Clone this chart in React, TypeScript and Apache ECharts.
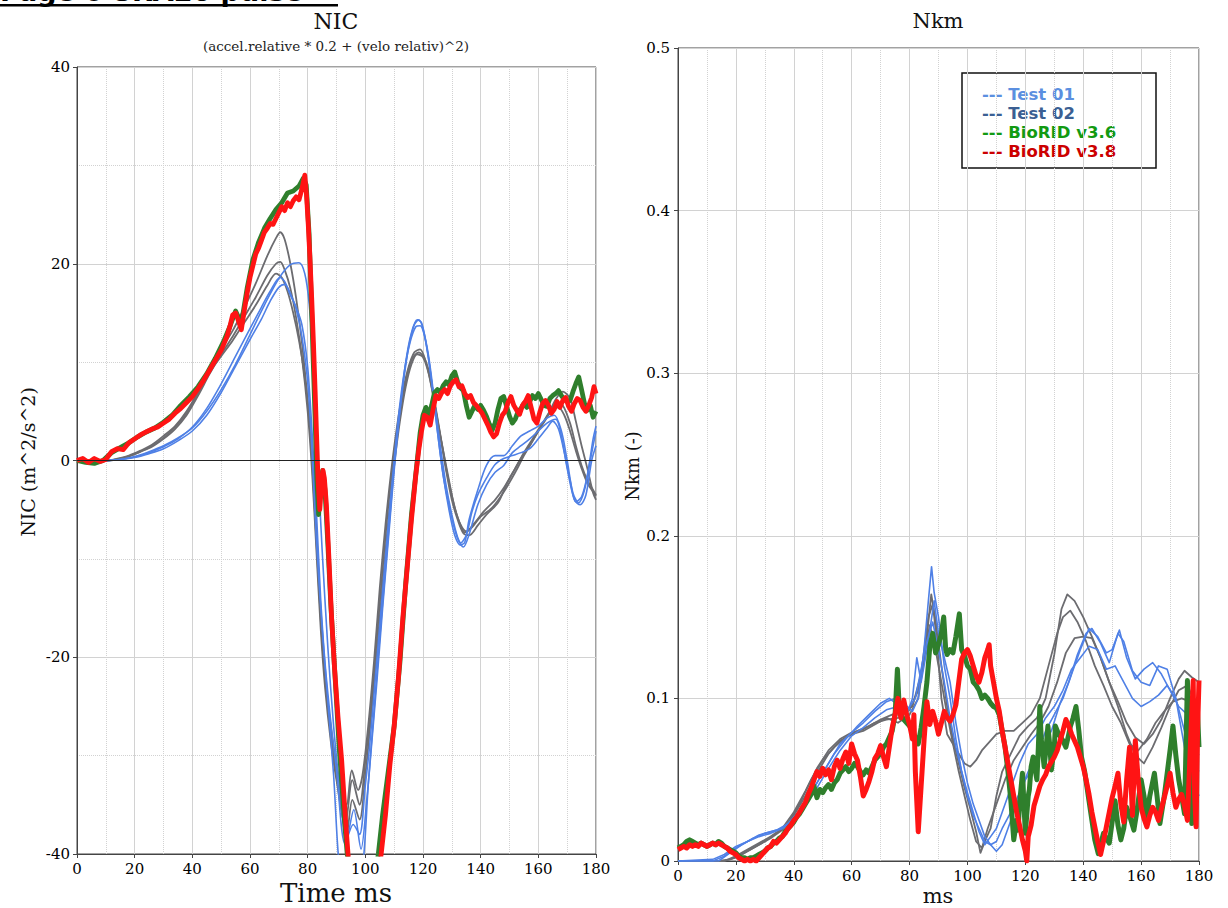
import React, { useEffect, useRef } from "react";
import * as echarts from "echarts";

type P = [number, number][];

// ---------- Left panel: NIC ----------
const NIC_TEST01_A: P = [[0,0],[10,0],[15,0.1],[20,0.4],[25,0.9],[30,1.5],[35,2.3],[40,3.3],[45,5.0],[50,7.2],[55,9.8],[60,12.8],[65,15.8],[70,18.5],[74,19.9],[77,20.1],[79,19],[80.5,16],[82,10],[83.5,0],[85,-9],[87,-19],[89,-27],[91,-33],[93.5,-38.5],[96,-35.5],[98.5,-39.5],[100.5,-34.5],[102,-29.5],[104,-22.5],[106,-15],[108,-8],[110,-1],[112,5],[114,10],[116,13],[118,14.3],[119.5,14],[121,12],[123,8],[125,3],[127,-1.5],[129,-4.5],[131,-7],[133,-8.4],[135,-7.6],[137,-5.2],[139,-3.5],[142,-1.8],[145,-0.4],[148,0.2],[151,0.5],[154,0.8],[157,1.2],[160,2.2],[163,3.3],[165,4.0],[167,3.2],[169,0.8],[171,-2],[173,-4.2],[175,-3.7],[177,-1.5],[179,2.2],[180,3.5]];
const NIC_TEST01_B: P = [[0,0],[10,0],[15,0.1],[20,0.35],[25,0.8],[30,1.4],[35,2.2],[40,3.4],[45,5.3],[50,7.8],[55,10.6],[60,13.4],[64,15.6],[67,17.2],[70.4,18.6],[72,18.2],[74,16.8],[76,15.6],[78,13.8],[80,9.5],[81.5,3],[83,-5],[84.5,-14],[86,-20.5],[88,-26.5],[90,-31.5],[93,-39],[95.8,-37],[98,-38],[100,-33],[101.5,-29],[103.5,-22],[105.5,-15],[107.5,-8],[109.5,-1.5],[111.5,4.5],[113.5,9],[115.5,12],[117.5,13.6],[119,13.7],[121,12.0],[123,8],[125,3],[127,-1.5],[129,-5],[131,-7.6],[133,-8.6],[134.5,-8.3],[136,-6],[139,-3],[142,-0.5],[145,0.5],[148,0.5],[151,1.5],[154,2.5],[157,3.0],[160,3.5],[163,4.3],[165.5,4.6],[168,3],[170,0],[172,-3.3],[174,-4.3],[176,-3],[178,0],[180,3]];
const NIC_TEST01_C: P = [[0,0],[10,0],[15,0.1],[20,0.3],[25,0.7],[30,1.2],[35,2.0],[40,3.0],[45,4.6],[50,6.9],[55,9.6],[60,12.3],[64,14.4],[67,16.2],[70,17.6],[72,17.9],[74,17.0],[76,15.4],[78,12.6],[80,8],[81.5,1],[83,-8],[85,-17],[87,-24.5],[89,-32],[90.6,-40],[92,-43],[94,-44],[95.5,-41.5],[97.5,-44],[99.5,-40],[101,-33],[103,-25.5],[105,-18],[107,-11],[109,-4],[111,2.5],[113,7.5],[115,11.5],[117,13.8],[118.5,14.3],[120,13.4],[122,10.5],[124,6],[126,1.5],[128,-2.5],[130,-5.5],[132,-7.8],[134,-8.8],[136,-7.5],[139,-4.5],[142,-2.5],[145,-1.2],[148,-0.5],[151,0.8],[154,1.5],[157,2.2],[160,3.0],[163,3.8],[166,4.2],[168,2.5],[170,-0.8],[172.5,-4.0],[174.5,-4.5],[176.5,-3.5],[178.5,0],[180,1.5]];
const NIC_TEST02_A: P = [[0,0],[10,0],[14,0.2],[18,0.5],[22,1.0],[26,1.6],[30,2.5],[34,3.5],[38,5.0],[42,7.0],[46,9.3],[50,11.3],[54,13.2],[58,15.5],[62,18.0],[66,20.8],[69,22.6],[70.5,23.2],[72,22.5],[74,20],[76,16.5],[78,12],[80,6],[81.5,0],[83,-8],[84.5,-16],[86,-22],[88,-27],[90,-31],[92,-34],[93.5,-35],[95.3,-31.5],[97.5,-33.5],[99,-32],[101,-27],[103,-20.5],[105,-13],[107,-6.5],[109,-1],[111,3.5],[113,7],[115,9.5],[117,11],[119,11.3],[121,10],[123,7.5],[125,4],[127,1],[129,-2],[131,-4.8],[133,-6.5],[135,-7.2],[138,-6.3],[141,-5.2],[145,-4],[148,-2.8],[151,-1.3],[154,0.2],[157,1.5],[160,3.0],[163,4.4],[166,6.2],[168.5,7.0],[171,6.3],[173,4.0],[175,1.5],[177,-0.8],[179,-3.3],[180,-4]];
const NIC_TEST02_B: P = [[0,0],[10,0],[14,0.1],[18,0.4],[22,0.9],[26,1.4],[30,2.2],[34,3.2],[38,4.6],[42,6.6],[46,8.8],[50,10.8],[54,12.6],[58,14.6],[62,16.6],[66,18.8],[69,20],[70.5,20.2],[72,19.4],[74,17.5],[76,14.5],[78,10.5],[80,5],[81.5,-1],[83,-9],[84.5,-17],[86,-23],[88,-28.5],[90,-32.5],[93,-37],[95.5,-32.5],[98,-35],[100,-30.5],[102,-25],[104,-18],[106,-11],[108,-4.5],[110,0.5],[112,4.5],[114,8],[116,10.2],[118.5,11.0],[120.5,10.4],[122.5,8.5],[124.5,5.2],[126.5,1.8],[128.5,-1.5],[130.5,-4.2],[132.5,-6.2],[134.5,-7.3],[137,-6.8],[140,-5.7],[144,-4.8],[148,-3.2],[152,-1.2],[155,0.5],[158,2.0],[161,3.5],[164,5.0],[166.5,5.8],[168.5,5.6],[171,3.8],[173,1.5],[175,-0.5],[177,-2.0],[179,-3.0],[180,-3.5]];
const NIC_TEST02_C: P = [[0,0],[10,0],[14,0.15],[18,0.45],[22,0.9],[26,1.5],[30,2.3],[34,3.4],[38,4.8],[42,6.8],[46,9.0],[50,10.6],[54,12.2],[58,14.0],[62,15.8],[66,17.8],[69,19.0],[71,18.6],[73,17.2],[75,15.0],[77,12.2],[79,8.5],[81,3],[82.5,-4],[84,-13],[85.5,-20],[87,-25],[89,-30],[91,-34],[93.5,-38],[95.5,-34.5],[98,-36.5],[100,-32],[102,-26],[104,-19.5],[106,-12.5],[108,-6],[110,-0.5],[112,4],[114,7.5],[116,9.8],[118,10.8],[120,10.5],[122,8.8],[124,5.8],[126,2.5],[128,-1],[130,-4],[132,-6],[134,-7.4],[136,-7.6],[139,-6.6],[142,-5.5],[146,-4.3],[149,-2.4],[152,-0.8],[155,0.8],[158,2.2],[161,3.6],[164,4.8],[167,5.4],[169,4.6],[171,3.0],[173,1.0],[175,-0.8],[177,-2.3],[179,-3.2],[180,-3.6]];
const NIC_V36: P = [[0,0],[3,-0.2],[6,-0.3],[9,0],[12,0.8],[15,1.3],[18,1.8],[21,2.4],[24,2.9],[27,3.3],[30,3.9],[33,4.6],[36,5.6],[39,6.5],[42,7.5],[45,8.8],[48,10.4],[51,12.2],[53,13.6],[55,15.2],[57,13.9],[59,17.5],[61,20.4],[63,22.2],[65,23.6],[67,24.6],[69,25.5],[71,26.2],[73,27.2],[75,27.4],[77,27.9],[78.5,28.7],[79.5,28],[80.5,23],[81.5,14],[82.5,5],[83.2,-2],[83.8,-5.5],[84.5,-2.5],[85.2,-1],[86,-3],[87,-8.5],[88,-14.5],[89,-19.5],[90,-24.5],[91,-29.5],[92,-33.5],[93,-37.5],[94,-41],[97,-45],[100,-46],[103,-43],[104.5,-40],[106,-36],[108,-31.5],[110,-27],[112,-20.5],[114,-12.5],[116,-5.5],[118,0],[119,2.8],[120,4.6],[121,5.4],[122,4.6],[123,5.6],[124,6.9],[125,7.2],[126,6.9],[127,7.6],[128,8.0],[129,7.7],[130,8.6],[131,9.0],[132,8.0],[133,7.4],[134,7.1],[135,5.6],[136,4.4],[137,5.0],[138,5.6],[139,5.2],[140,5.6],[141,5.1],[142,4.5],[143,3.7],[144,3.1],[145,3.8],[146,5.2],[147,6.3],[148,6.5],[149,5.5],[150,4.5],[151,3.8],[152,4.2],[153,5.0],[154,5.3],[155,5.8],[156,5.4],[157,6.0],[158,6.6],[159,6.3],[160,6.8],[161,6.2],[162,5.6],[163,5.5],[164,6.3],[165,6.6],[166,6.8],[167,7.1],[168,6.6],[169,6.2],[170,6.0],[171,6.1],[172,7.0],[173,7.8],[174,8.5],[175,7.2],[176,5.8],[177,5.1],[178,5.6],[179,4.4],[180,5.0]];
const NIC_V38: P = [[0,0],[2,0.2],[4,-0.2],[6,0.2],[8,-0.1],[10,0.1],[12,0.9],[14,1.2],[16,1.1],[18,1.8],[20,2.2],[22,2.6],[24,2.9],[26,3.2],[28,3.4],[30,3.8],[32,4.2],[34,4.8],[36,5.3],[38,5.9],[40,6.5],[42,7.3],[44,8.2],[46,9.2],[48,10.2],[50,11.2],[52,12.6],[53,13.6],[54,14.8],[55,15.0],[56,14.2],[57,13.3],[58,15.2],[59,17.0],[60,18.6],[61,19.8],[62,21.0],[63,21.6],[64,22.4],[65,23.2],[66,23.6],[67,24.1],[68,24.0],[69,24.6],[70,25.2],[71,25.8],[72,25.4],[73,26.2],[74,25.8],[75,26.4],[76,26.8],[77,26.5],[78,27.6],[79,29.0],[79.6,27.0],[80.2,24.0],[80.8,20.5],[81.4,16.5],[82,12.0],[82.6,7.0],[83.1,2.5],[83.6,-2.0],[84.2,-5.0],[84.8,-2.5],[85.3,-1.0],[85.8,-1.8],[86.5,-4.5],[87.3,-9.5],[88.3,-16],[89.3,-21],[90.5,-26],[91.8,-30.5],[93,-36],[94,-40],[95,-43],[98,-46],[101,-46],[104,-43],[105.5,-40],[107,-36],[108.5,-31],[110,-27],[111.5,-22],[113,-16],[114.5,-11],[116,-6],[117.5,-1.5],[118.5,1.0],[119.5,3.0],[120.5,4.6],[121.5,4.4],[122.5,3.6],[123.5,5.2],[124.5,6.6],[125.5,6.3],[126.5,6.9],[127.5,7.2],[128.5,6.8],[129.5,7.6],[130.5,8.0],[131.5,8.2],[132.5,7.5],[133.5,7.6],[134.5,6.8],[135.5,6.4],[136.5,6.6],[137.5,5.9],[138.5,5.6],[139.5,5.2],[140.5,4.8],[141.5,4.2],[142.5,3.6],[143.5,2.9],[144.5,2.4],[145.5,2.7],[146.5,3.8],[147.5,4.6],[148.5,5.0],[149.5,5.9],[150.5,6.5],[151.5,5.6],[152.5,5.1],[153.5,4.7],[154.5,5.6],[155.5,6.0],[156.5,6.6],[157.5,5.4],[158.5,4.2],[159.5,3.8],[160.5,4.9],[161.5,5.8],[162.5,6.1],[163.5,5.6],[164.5,4.8],[165.5,5.2],[166.5,6.0],[167.5,5.4],[168.5,6.1],[169.5,6.4],[170.5,5.5],[171.5,5.0],[172.5,5.8],[173.5,6.3],[174.5,6.1],[175.5,5.4],[176.5,5.0],[177.5,5.6],[178.5,6.4],[179.3,7.5],[180,6.8]];

// ---------- Right panel: Nkm ----------
const NKM_TEST01_A: P = [[0,0],[12,0],[16,0.003],[20,0.008],[24,0.012],[28,0.015],[32,0.017],[36,0.02],[40,0.026],[44,0.036],[48,0.048],[52,0.06],[56,0.072],[60,0.079],[64,0.085],[68,0.092],[72,0.098],[75,0.1],[78,0.097],[81,0.092],[83,0.1],[85,0.13],[86.5,0.16],[87.6,0.181],[88.5,0.165],[90,0.15],[92,0.12],[94,0.1],[96,0.075],[98,0.055],[100,0.04],[102,0.028],[104,0.02],[106,0.012],[108,0.01],[110,0.006],[112,0.01],[114,0.02],[117,0.035],[120,0.05],[123,0.058],[126,0.07],[129,0.08],[132,0.097],[135,0.11],[138,0.127],[141,0.14],[143,0.143],[146,0.134],[149,0.122],[152,0.14],[154,0.135],[157,0.117],[160,0.11],[163,0.108],[166,0.12],[169,0.118],[172,0.1],[175,0.08],[178,0.06],[180,0.055]];
const NKM_TEST01_B: P = [[0,0],[14,0],[18,0.005],[22,0.01],[26,0.014],[30,0.017],[34,0.019],[38,0.023],[42,0.031],[46,0.042],[50,0.054],[54,0.066],[58,0.075],[62,0.083],[66,0.09],[70,0.097],[73,0.1],[76,0.096],[79,0.09],[81,0.1],[82.5,0.125],[84,0.11],[86,0.13],[88.5,0.16],[90,0.14],[92,0.125],[94,0.11],[96,0.085],[98,0.065],[100,0.048],[102,0.035],[104,0.025],[106,0.015],[108,0.01],[110,0.012],[112,0.02],[115,0.03],[118,0.042],[121,0.055],[124,0.065],[127,0.08],[130,0.09],[133,0.1],[136,0.115],[139,0.13],[142,0.143],[145,0.138],[148,0.128],[150,0.13],[152.5,0.142],[155,0.125],[158,0.112],[161,0.118],[164,0.122],[167,0.115],[170,0.105],[173,0.095],[176,0.09],[178,0.07],[180,0.065]];
const NKM_TEST01_C: P = [[0,0],[12,0.001],[16,0.004],[20,0.009],[24,0.012],[28,0.016],[32,0.018],[36,0.02],[40,0.025],[44,0.034],[48,0.045],[52,0.057],[56,0.068],[60,0.077],[64,0.082],[68,0.088],[72,0.093],[76,0.095],[79,0.092],[82,0.1],[84,0.118],[86,0.135],[88,0.147],[90,0.13],[92,0.11],[94,0.088],[96,0.07],[98,0.055],[100,0.042],[102,0.03],[104,0.018],[106,0.01],[108,0.015],[110,0.02],[112,0.03],[115,0.045],[118,0.06],[121,0.072],[124,0.078],[127,0.088],[130,0.095],[133,0.105],[136,0.118],[139,0.125],[142,0.132],[145,0.13],[148,0.118],[151,0.12],[154,0.11],[157,0.1],[160,0.095],[163,0.098],[166,0.102],[169,0.108],[172,0.1],[175,0.07],[178,0.05],[180,0.04]];
const NKM_TEST02_A: P = [[0,0],[16,0],[20,0.002],[24,0.006],[28,0.01],[32,0.014],[36,0.019],[40,0.028],[44,0.04],[48,0.054],[52,0.066],[56,0.074],[60,0.078],[64,0.08],[68,0.084],[72,0.088],[76,0.085],[80,0.09],[83,0.1],[85.5,0.13],[87.5,0.164],[89,0.148],[91,0.12],[93,0.095],[95,0.075],[97,0.06],[99,0.045],[101,0.032],[103,0.018],[104.5,0.005],[106,0.012],[108,0.02],[110,0.04],[112,0.055],[115,0.066],[118,0.077],[121,0.083],[124,0.088],[127,0.1],[130,0.127],[132.5,0.155],[134.5,0.164],[137,0.16],[140,0.15],[143,0.138],[146,0.125],[149,0.11],[152,0.098],[155,0.085],[158,0.076],[161,0.072],[164,0.078],[167,0.087],[170,0.1],[173,0.112],[175,0.117],[177.5,0.113],[180,0.11]];
const NKM_TEST02_B: P = [[0,0],[14,0],[18,0.001],[22,0.004],[26,0.008],[30,0.012],[34,0.017],[38,0.023],[42,0.035],[46,0.05],[50,0.062],[54,0.07],[58,0.076],[62,0.08],[66,0.083],[70,0.087],[74,0.09],[78,0.092],[81,0.095],[84,0.115],[86.5,0.15],[88,0.158],[89.5,0.135],[91,0.1],[93,0.078],[95,0.072],[97,0.066],[99,0.06],[101,0.058],[103,0.062],[105,0.068],[107,0.072],[110,0.078],[113,0.08],[116,0.08],[119,0.085],[122,0.09],[125,0.1],[128,0.12],[131,0.14],[133,0.15],[135.5,0.154],[138,0.147],[141,0.135],[144,0.12],[147,0.108],[150,0.095],[153,0.085],[156,0.072],[159,0.068],[162,0.075],[165,0.085],[168,0.092],[171,0.098],[174,0.1],[177,0.098],[180,0.09]];
const NKM_TEST02_C: P = [[0,0],[16,0],[20,0.003],[24,0.007],[28,0.011],[32,0.015],[36,0.02],[40,0.03],[44,0.043],[48,0.057],[52,0.068],[56,0.075],[60,0.079],[64,0.081],[68,0.085],[72,0.087],[76,0.088],[80,0.093],[83,0.105],[85,0.125],[87,0.145],[89,0.13],[91,0.11],[93,0.09],[95,0.072],[97,0.055],[99,0.04],[101,0.025],[103,0.012],[105,0.008],[107,0.02],[110,0.035],[113,0.05],[116,0.062],[119,0.07],[122,0.078],[125,0.085],[128,0.095],[131,0.11],[134,0.128],[137,0.137],[140,0.138],[143,0.137],[146,0.125],[149,0.11],[152,0.095],[155,0.078],[158,0.065],[161,0.06],[164,0.07],[167,0.082],[170,0.095],[173,0.105],[176,0.108],[178,0.1],[180,0.098]];
const NKM_V36: P = [[0,0.008],[1,0.009],[2,0.01],[3,0.012],[4,0.013],[5,0.012],[6,0.011],[7,0.01],[8,0.011],[9,0.01],[10,0.009],[11,0.01],[12,0.011],[13,0.01],[14,0.012],[15,0.011],[16,0.009],[17,0.008],[18,0.007],[19,0.006],[20,0.005],[21,0.003],[22,0.002],[23,0.002],[24,0.001],[25,0.002],[26,0.002],[27,0.003],[28,0.004],[29,0.005],[30,0.006],[31,0.008],[32,0.009],[33,0.011],[34,0.012],[35,0.014],[36,0.015],[37,0.018],[38,0.02],[39,0.022],[40,0.024],[41,0.027],[42,0.029],[43,0.032],[44,0.035],[45,0.038],[46,0.041],[47,0.046],[48,0.039],[49,0.044],[50,0.042],[51,0.045],[52,0.047],[53,0.044],[54,0.048],[55,0.05],[56,0.054],[57,0.056],[58,0.058],[59,0.055],[60,0.057],[61,0.06],[62,0.058],[63,0.055],[64,0.053],[65,0.056],[66,0.054],[67,0.058],[68,0.062],[69,0.064],[70,0.066],[71,0.07],[72,0.072],[73,0.076],[74,0.08],[75,0.09],[75.8,0.118],[76.5,0.092],[77,0.09],[78,0.087],[79,0.085],[80,0.083],[81,0.08],[82,0.076],[83,0.072],[84,0.082],[85,0.095],[86,0.11],[87,0.132],[88,0.14],[89,0.128],[90,0.133],[91,0.14],[91.8,0.15],[92.5,0.13],[93,0.127],[94,0.13],[95,0.128],[96,0.138],[97.2,0.152],[98,0.13],[99,0.126],[100,0.12],[101,0.118],[102,0.11],[103,0.108],[104,0.105],[105,0.1],[106,0.102],[107,0.1],[108,0.097],[109,0.095],[110,0.094],[111,0.09],[112,0.08],[113,0.07],[114,0.055],[115,0.037],[116,0.013],[117,0.025],[117.5,0.019],[118,0.035],[119,0.054],[120,0.017],[121,0.04],[121.4,0.044],[122,0.058],[122.7,0.064],[123.5,0.055],[124,0.05],[124.5,0.07],[125,0.095],[125.5,0.075],[126.5,0.058],[127.2,0.07],[127.8,0.083],[128.5,0.07],[129,0.056],[130,0.07],[130.4,0.083],[131.5,0.078],[133,0.074],[134,0.07],[135,0.078],[135.6,0.083],[136.5,0.088],[137.5,0.095],[138.5,0.08],[139.4,0.064],[140.5,0.055],[142,0.037],[143,0.025],[144,0.013],[145.2,0.0045],[146,0.01],[147,0.017],[148,0.014],[149,0.011],[150,0.024],[151,0.037],[152,0.022],[153,0.013],[154,0.02],[155,0.033],[156,0.028],[157.5,0.019],[158.5,0.03],[160,0.05],[161,0.04],[162,0.027],[163,0.04],[164.6,0.054],[165.5,0.04],[166.5,0.023],[168,0.04],[169,0.054],[170,0.068],[171,0.083],[172,0.065],[173,0.05],[174,0.04],[175,0.029],[176,0.111],[176.8,0.06],[177.5,0.023],[178.5,0.06],[179.4,0.095],[180,0.07]];
const NKM_V38: P = [[0,0.007],[1,0.008],[2,0.009],[3,0.008],[4,0.01],[5,0.009],[6,0.01],[7,0.009],[8,0.011],[9,0.01],[10,0.009],[11,0.01],[12,0.011],[13,0.01],[14,0.011],[15,0.01],[16,0.009],[17,0.008],[18,0.006],[19,0.005],[20,0.004],[21,0.002],[22,0.001],[23,0],[24,0.001],[25,0],[26,0.001],[27,0],[28,0.002],[29,0.004],[30,0.006],[31,0.008],[32,0.009],[33,0.012],[34,0.011],[35,0.013],[36,0.015],[37,0.017],[38,0.02],[39,0.022],[40,0.025],[41,0.027],[42,0.03],[43,0.033],[44,0.036],[45,0.041],[46,0.045],[47,0.05],[48,0.055],[49,0.052],[50,0.057],[51,0.053],[52,0.056],[53,0.05],[54,0.058],[55,0.062],[56,0.057],[57,0.063],[58,0.067],[59,0.06],[60,0.072],[61,0.066],[62,0.062],[63,0.052],[64,0.04],[65,0.044],[66,0.049],[67,0.055],[68,0.063],[69,0.066],[70,0.071],[71,0.064],[72,0.058],[73,0.07],[74,0.082],[75,0.09],[76,0.1],[77,0.088],[78,0.099],[79,0.09],[80,0.084],[81,0.075],[81.5,0.09],[82,0.055],[83,0.018],[84,0.046],[85,0.074],[86,0.098],[87,0.084],[88,0.092],[89,0.086],[90,0.078],[91,0.085],[92,0.092],[93,0.088],[94,0.086],[95,0.09],[96,0.096],[97,0.11],[98,0.124],[99,0.128],[100,0.13],[101,0.126],[102,0.12],[103,0.114],[104,0.11],[105,0.116],[106,0.125],[107,0.13],[107.5,0.133],[108,0.12],[109,0.11],[110,0.1],[111,0.092],[112,0.08],[113,0.07],[114,0.06],[115,0.05],[116,0.04],[117,0.03],[118,0.022],[119,0.013],[120,0.006],[120.5,0],[121,0.015],[122,0.022],[123,0.034],[124,0.04],[125,0.046],[126,0.05],[127,0.053],[128,0.058],[129,0.061],[130,0.064],[131,0.068],[132,0.074],[133,0.08],[134,0.087],[135,0.083],[136,0.078],[137,0.074],[138,0.07],[139,0.064],[140,0.058],[141,0.05],[142,0.041],[143,0.03],[144,0.021],[145,0.012],[146,0.004],[147,0.012],[148,0.021],[149,0.03],[150,0.039],[151,0.046],[152,0.054],[153,0.035],[154,0.024],[155,0.05],[156,0.07],[157,0.028],[158,0.074],[159,0.05],[160,0.033],[161,0.026],[162,0.021],[163,0.028],[164,0.033],[165,0.03],[166,0.025],[167,0.032],[168,0.039],[169,0.046],[170,0.054],[171,0.042],[172,0.033],[173,0.038],[174,0.041],[175,0.034],[176,0.025],[177,0.07],[178,0.111],[178.5,0.04],[179,0.021],[179.5,0.08],[180,0.111]];

const LEGEND_LABELS = ["--- Test 01", "--- Test 02", "--- BioRID v3.6", "--- BioRID v3.8"];
const LEGEND_COLORS = ["#5b8fe0", "#3b5f93", "#129a12", "#cc0000"];
const PAGE_TITLE = "Page 6 SRA20 pulse";

const C_BLUE = "#4f80e6";
const C_GRAY = "#6c6c70";
const C_GREEN = "#2f7f2c";
const C_RED = "#ff1414";

const SERIF = "DejaVu Serif";

export default function App() {
  const ref = useRef<HTMLDivElement>(null);
  useEffect(() => {
    if (!ref.current) return;
    const chart = echarts.init(ref.current, undefined, { renderer: "svg" });

    const mk = (name: string, data: P, color: string, width: number, idx: number, smooth: number | boolean) => ({
      type: "line",
      name,
      data,
      xAxisIndex: idx,
      yAxisIndex: idx,
      showSymbol: false,
      symbol: "none",
      smooth,
      silent: true,
      lineStyle: { color, width, join: "round" },
      itemStyle: { color },
    });

    const labelStyle = { fontFamily: SERIF, fontSize: 15, color: "#000" };
    const gridLine = { show: true, lineStyle: { color: "#d2d2d2", width: 1 } };
    const minorLine = { show: true, lineStyle: { color: "#d2d2d2", width: 1, type: "dotted" } };

    const xAxisBase = (gridIndex: number) => ({
      gridIndex,
      type: "value",
      min: 0,
      max: 180,
      interval: 20,
      axisLine: { show: true, onZero: false, lineStyle: { color: "#444", width: 1 } },
      axisTick: { show: true, length: 4, lineStyle: { color: "#444" } },
      axisLabel: { ...labelStyle, margin: 7 },
      splitLine: gridLine,
      minorTick: { show: false, splitNumber: 2 },
      minorSplitLine: minorLine,
    });

    const nicSeries: any[] = [
      { ...mk("Test 02", NIC_TEST02_A, C_GRAY, 1.8, 0, 0.3),
        markLine: { silent: true, symbol: "none", label: { show: false }, lineStyle: { color: "#222", width: 1, type: "solid" }, data: [{ yAxis: 0 }] } },
      mk("Test 02", NIC_TEST02_B, C_GRAY, 1.8, 0, 0.3),
      mk("Test 02", NIC_TEST02_C, C_GRAY, 1.8, 0, 0.3),
      mk("Test 01", NIC_TEST01_A, C_BLUE, 1.6, 0, 0.3),
      mk("Test 01", NIC_TEST01_B, C_BLUE, 1.6, 0, 0.3),
      mk("Test 01", NIC_TEST01_C, C_BLUE, 1.6, 0, 0.3),
      mk("BioRID v3.6", NIC_V36, C_GREEN, 4.8, 0, false),
      mk("BioRID v3.8", NIC_V38, C_RED, 4.8, 0, false),
    ];
    const nkmSeries: any[] = [
      mk("Test 02", NKM_TEST02_A, C_GRAY, 1.8, 1, false),
      mk("Test 02", NKM_TEST02_B, C_GRAY, 1.8, 1, false),
      mk("Test 02", NKM_TEST02_C, C_GRAY, 1.8, 1, false),
      mk("Test 01", NKM_TEST01_A, C_BLUE, 1.6, 1, false),
      mk("Test 01", NKM_TEST01_B, C_BLUE, 1.6, 1, false),
      mk("Test 01", NKM_TEST01_C, C_BLUE, 1.6, 1, false),
      mk("BioRID v3.6", NKM_V36, C_GREEN, 5, 1, false),
      mk("BioRID v3.8", NKM_V38, C_RED, 5, 1, false),
    ];

    const legendChildren: any[] = [
      { type: "rect", shape: { x: 962, y: 73, width: 194, height: 95 }, style: { fill: "#fff", stroke: "#111", lineWidth: 1.5 } },
      ...LEGEND_LABELS.map((t, i) => ({
        type: "text",
        x: 982,
        y: 94 + i * 19.3,
        style: { text: t, fill: LEGEND_COLORS[i], font: "bold 16.5px 'DejaVu Sans'", verticalAlign: "middle", align: "left" },
      })),
    ];

    chart.setOption({
      animation: false,
      backgroundColor: "#ffffff",
      grid: [
        { left: 77, top: 67, width: 519, height: 787, show: true, borderColor: "#444", borderWidth: 1, containLabel: false },
        { left: 678, top: 48, width: 521, height: 813, show: true, borderColor: "#444", borderWidth: 1, containLabel: false },
      ],
      xAxis: [xAxisBase(0), xAxisBase(1)],
      yAxis: [
        {
          gridIndex: 0,
          type: "value",
          min: -40,
          max: 40,
          interval: 20,
          axisLine: { show: true, onZero: false, lineStyle: { color: "#444", width: 1 } },
          axisTick: { show: true, length: 4, lineStyle: { color: "#444" } },
          axisLabel: { ...labelStyle, margin: 7 },
          splitLine: gridLine,
          minorTick: { show: false, splitNumber: 2 },
          minorSplitLine: minorLine,
        },
        {
          gridIndex: 1,
          type: "value",
          min: 0,
          max: 0.5,
          interval: 0.1,
          axisLine: { show: true, onZero: false, lineStyle: { color: "#444", width: 1 } },
          axisTick: { show: true, length: 4, lineStyle: { color: "#444" } },
          axisLabel: { ...labelStyle, margin: 8, formatter: (v: number) => (v === 0 ? "0" : String(Math.round(v * 10) / 10)) },
          splitLine: gridLine,
        },
      ],
      series: [...nicSeries, ...nkmSeries],
      graphic: [
        { type: "text", x: 0, y: -9, style: { text: PAGE_TITLE, font: "bold 27px 'DejaVu Sans'", fill: "#000", verticalAlign: "middle", align: "left" } },
        { type: "rect", shape: { x: 0, y: 4, width: 338, height: 2.5 }, style: { fill: "#000" } },
        { type: "text", x: 336, y: 21, style: { text: "NIC", font: `22px '${SERIF}'`, fill: "#111", align: "center", verticalAlign: "middle" } },
        { type: "text", x: 336, y: 46, style: { text: "(accel.relative * 0.2 + (velo relativ)^2)", font: `13.5px '${SERIF}'`, fill: "#222", align: "center", verticalAlign: "middle" } },
        { type: "text", x: 938, y: 21, style: { text: "Nkm", font: `21px '${SERIF}'`, fill: "#111", align: "center", verticalAlign: "middle" } },
        { type: "text", x: 336, y: 893, style: { text: "Time ms", font: `26px '${SERIF}'`, fill: "#111", align: "center", verticalAlign: "middle" } },
        { type: "text", x: 938, y: 896, style: { text: "ms", font: `21px '${SERIF}'`, fill: "#111", align: "center", verticalAlign: "middle" } },
        { type: "text", x: 28, y: 462, rotation: Math.PI / 2, style: { text: "NIC (m^2/s^2)", font: `19px '${SERIF}'`, fill: "#111", align: "center", verticalAlign: "middle" } },
        { type: "text", x: 632, y: 466, rotation: Math.PI / 2, style: { text: "Nkm (-)", font: `18px '${SERIF}'`, fill: "#111", align: "center", verticalAlign: "middle" } },
        { type: "group", children: legendChildren },
      ],
    });

    return () => chart.dispose();
  }, []);

  return <div ref={ref} style={{ position: "absolute", left: 0, top: 0, width: 1228, height: 908 }} />;
}
